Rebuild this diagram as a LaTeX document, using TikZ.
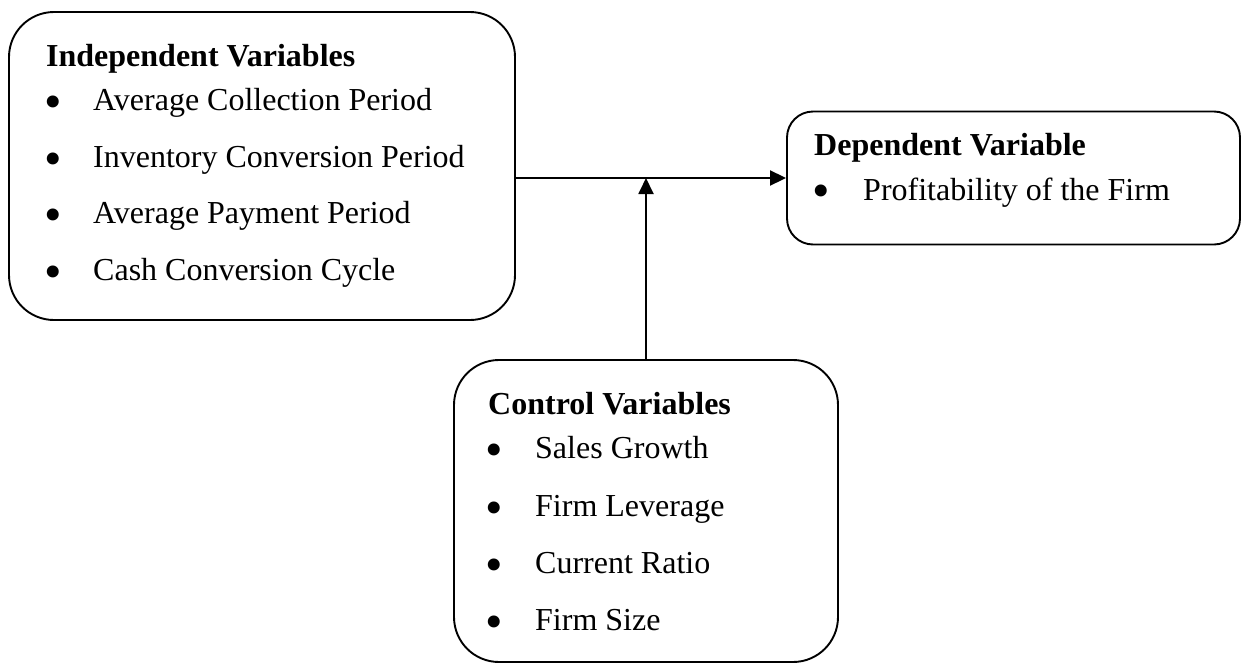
\documentclass[tikz,border=0pt]{standalone}
\usepackage{fontspec}
\setmainfont{Liberation Serif}
\usetikzlibrary{arrows.meta}
\begin{document}
\begin{tikzpicture}[x=1pt,y=-1pt,
  box/.style={draw, line width=1.9pt, inner sep=0pt},
  txt/.style={anchor=base west, inner sep=0pt, font=\fontsize{32}{38}\selectfont},
  ttl/.style={txt, font=\fontsize{32}{38}\selectfont\bfseries},
  bul/.style={anchor=center, inner sep=0pt, font=\fontsize{50}{56}\selectfont},
  conn/.style={line width=1.9pt, -{Triangle[length=16pt,width=15pt]}}]
\useasboundingbox (0,0) rectangle (1244,664);
% boxes
\node[box, minimum width=506pt, minimum height=308pt, rounded corners=45pt] (indep) at (262,166) {};
\node[box, minimum width=453pt, minimum height=133pt, rounded corners=26pt] (dep) at (1013.5,178) {};
\node[box, minimum width=384pt, minimum height=302pt, rounded corners=45pt] (ctrl) at (646,511) {};
% independent text
\node[ttl] (it) at (46,66) {Independent Variables};
\node[bul] (ib1) at (53,107) {\textbullet};
\node[txt] (i1) at (93,110) {Average Collection Period};
\node[bul] (ib2) at (53,164) {\textbullet};
\node[txt] (i2) at (93,167) {Inventory Conversion Period};
\node[bul] (ib3) at (53,220) {\textbullet};
\node[txt] (i3) at (93,223) {Average Payment Period};
\node[bul] (ib4) at (53,277) {\textbullet};
\node[txt] (i4) at (93,280) {Cash Conversion Cycle};
% dependent text
\node[ttl] (dt) at (814,155) {Dependent Variable};
\node[bul] (db1) at (821,196) {\textbullet};
\node[txt] (d1) at (863,200) {Profitability of the Firm};
% control text
\node[ttl] (ct) at (488,414) {Control Variables};
\node[bul] (cb1) at (494,455) {\textbullet};
\node[txt] (c1) at (535,458) {Sales Growth};
\node[bul] (cb2) at (494,513) {\textbullet};
\node[txt] (c2) at (535,516) {Firm Leverage};
\node[bul] (cb3) at (494,570) {\textbullet};
\node[txt] (c3) at (535,573) {Current Ratio};
\node[bul] (cb4) at (494,627) {\textbullet};
\node[txt] (c4) at (535,630) {Firm Size};
% connectors
\draw[conn] (dep.west -| indep.east) -- (dep.west);
\draw[conn] (ctrl.north) -- (ctrl.north |- dep.west);
\end{tikzpicture}
\end{document}
